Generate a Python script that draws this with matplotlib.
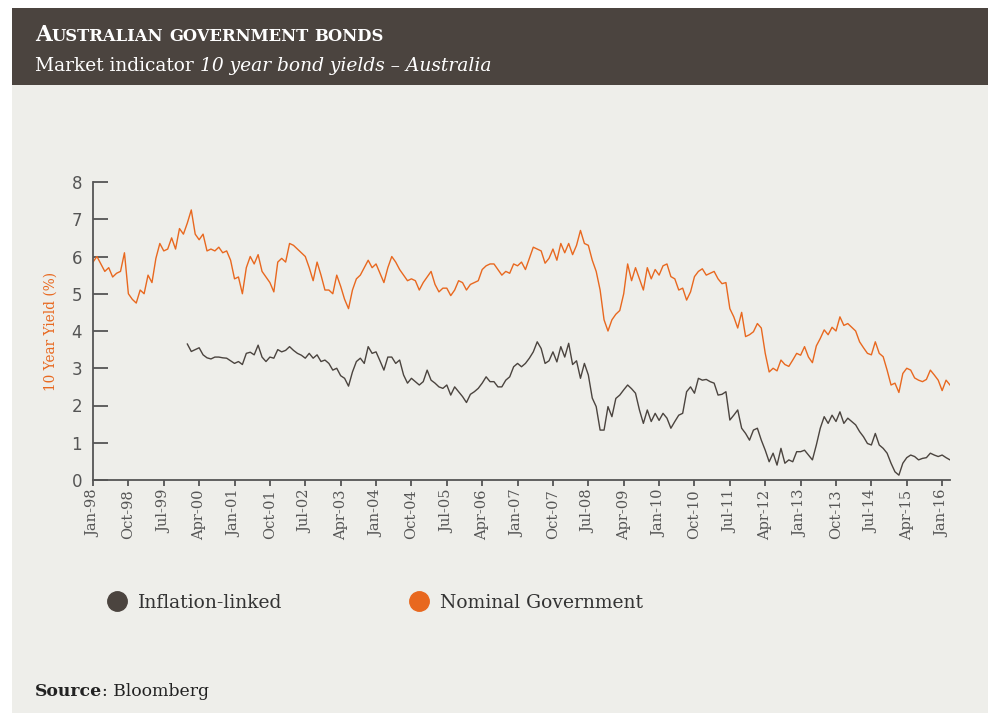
import matplotlib
matplotlib.use("Agg")
import matplotlib.pyplot as plt
from matplotlib.lines import Line2D
from matplotlib.patches import Rectangle

# monthly readings, Jan-98 .. Mar-16
nominal = [5.85, 6.0, 5.8, 5.6, 5.7, 5.45, 5.55, 5.6, 6.1, 5.0, 4.85, 4.75,
           5.1, 5.0, 5.5, 5.3, 5.95, 6.35, 6.15, 6.2, 6.5, 6.2, 6.75, 6.6,
           6.9, 7.25, 6.6, 6.45, 6.6, 6.15, 6.2, 6.15, 6.25, 6.1, 6.15, 5.9,
           5.4, 5.45, 5.0, 5.7, 6.0, 5.8, 6.05, 5.6, 5.45, 5.3, 5.05, 5.85,
           5.95, 5.85, 6.35, 6.3, 6.2, 6.1, 6.0, 5.7, 5.35, 5.85, 5.5, 5.1,
           5.1, 5.0, 5.5, 5.2, 4.85, 4.6, 5.1, 5.4, 5.5, 5.7, 5.9, 5.7,
           5.8, 5.55, 5.3, 5.7, 6.0, 5.85, 5.65, 5.5, 5.35, 5.4, 5.35, 5.1,
           5.3, 5.45, 5.6, 5.25, 5.05, 5.15, 5.15, 4.95, 5.1, 5.35, 5.3, 5.1,
           5.25, 5.3, 5.35, 5.65, 5.75, 5.8, 5.8, 5.65, 5.5, 5.6, 5.55, 5.8,
           5.75, 5.85, 5.65, 5.95, 6.25, 6.2, 6.15, 5.82, 5.95, 6.2, 5.9, 6.35,
           6.1, 6.35, 6.05, 6.3, 6.7, 6.35, 6.3, 5.9, 5.6, 5.1, 4.3, 4.0,
           4.3, 4.45, 4.55, 5.0, 5.8, 5.35, 5.7, 5.4, 5.1, 5.7, 5.4, 5.65,
           5.5, 5.75, 5.8, 5.46, 5.4, 5.1, 5.15, 4.83, 5.05, 5.46, 5.6, 5.67,
           5.5, 5.55, 5.6, 5.4, 5.27, 5.3, 4.6, 4.38, 4.08, 4.5, 3.85, 3.9,
           3.98, 4.2, 4.08, 3.4, 2.9, 3.0, 2.93, 3.22, 3.1, 3.05, 3.22, 3.4,
           3.35, 3.58, 3.3, 3.15, 3.6, 3.8, 4.03, 3.9, 4.1, 4.0, 4.38, 4.15,
           4.2, 4.1, 4.0, 3.71, 3.55, 3.4, 3.36, 3.71, 3.4, 3.31, 2.95, 2.55,
           2.6, 2.35, 2.86, 3.0, 2.95, 2.74, 2.68, 2.64, 2.7, 2.95, 2.82, 2.68,
           2.4, 2.68, 2.55]

# inflation-linked starts Jan-00
linked_start = 24
linked = [3.65, 3.45, 3.5, 3.55, 3.36, 3.28, 3.25, 3.3, 3.3, 3.28, 3.27, 3.2,
          3.13, 3.18, 3.1, 3.4, 3.43, 3.36, 3.62, 3.3, 3.18, 3.3, 3.27, 3.5,
          3.44, 3.48, 3.58, 3.48, 3.4, 3.35, 3.27, 3.4, 3.27, 3.36, 3.18, 3.22,
          3.13, 2.95, 3.0, 2.8, 2.73, 2.52, 2.9, 3.18, 3.27, 3.13, 3.58, 3.4,
          3.44, 3.2, 2.95, 3.3, 3.3, 3.13, 3.22, 2.82, 2.6, 2.73, 2.64, 2.55,
          2.64, 2.95, 2.68, 2.6, 2.5, 2.46, 2.55, 2.28, 2.5, 2.37, 2.24, 2.08,
          2.3, 2.37, 2.46, 2.6, 2.77, 2.64, 2.64, 2.5, 2.5, 2.68, 2.77, 3.04,
          3.13, 3.04, 3.13, 3.27, 3.44, 3.71, 3.53, 3.13, 3.2, 3.44, 3.17, 3.58,
          3.3, 3.67, 3.1, 3.2, 2.73, 3.13, 2.82, 2.2, 1.97, 1.34, 1.34, 1.97,
          1.7, 2.19, 2.28, 2.42, 2.55, 2.45, 2.33, 1.88, 1.52, 1.88, 1.57, 1.79,
          1.6, 1.79, 1.66, 1.39, 1.57, 1.74, 1.79, 2.37, 2.5, 2.33, 2.73, 2.68,
          2.7, 2.64, 2.6, 2.28, 2.3, 2.37, 1.61, 1.74, 1.88, 1.39, 1.25, 1.07,
          1.34, 1.39, 1.07, 0.8, 0.49, 0.72, 0.4, 0.85, 0.45, 0.54, 0.49, 0.76,
          0.76, 0.8, 0.67, 0.54, 0.94, 1.39, 1.7, 1.52, 1.74, 1.57, 1.83, 1.52,
          1.66, 1.57, 1.48, 1.3, 1.16, 0.98, 0.94, 1.25, 0.94, 0.85, 0.72, 0.45,
          0.22, 0.13, 0.45, 0.6, 0.67, 0.63, 0.54, 0.58, 0.6, 0.72, 0.67, 0.63,
          0.67, 0.6, 0.54]

tick_labels = ["Jan-98", "Oct-98", "Jul-99", "Apr-00", "Jan-01", "Oct-01", "Jul-02",
               "Apr-03", "Jan-04", "Oct-04", "Jul-05", "Apr-06", "Jan-07", "Oct-07",
               "Jul-08", "Apr-09", "Jan-10", "Oct-10", "Jul-11", "Apr-12", "Jan-13",
               "Oct-13", "Jul-14", "Apr-15", "Jan-16"]

ORANGE = "#e8681f"
DARK = "#4b443f"
PANEL = "#eeeeea"
AXC = "#555555"

W, H = 988, 713
fig = plt.figure(figsize=(W / 100, H / 100), dpi=100)
fig.patch.set_facecolor("white")

# background panel + header band
fig.patches.append(Rectangle((12 / W, 0), 1, 1 - 85 / H, transform=fig.transFigure,
                             facecolor=PANEL, edgecolor="none", zorder=-2))
fig.patches.append(Rectangle((12 / W, 1 - 85 / H), 1, 77 / H, transform=fig.transFigure,
                             facecolor=DARK, edgecolor="none", zorder=-2))

renderer = fig.canvas.get_renderer()


def put(x, y, s, **kw):
    t = fig.text(x / W, 1 - y / H, s, va="baseline", ha="left", **kw)
    return t.get_window_extent(renderer).x1


# small caps title
x = 35
for word in ["Australian", "government", "bonds"]:
    if word == "Australian":
        x = put(x, 41, word[0].upper(), fontsize=15.5, fontweight="bold",
                family="DejaVu Serif", color="white")
        x = put(x, 41, word[1:].upper(), fontsize=11.8, fontweight="bold",
                family="DejaVu Serif", color="white")
    else:
        x = put(x, 41, word.upper(), fontsize=11.8, fontweight="bold",
                family="DejaVu Serif", color="white")
    x += 6

x = put(35, 71, "Market indicator ", fontsize=13.4, family="DejaVu Serif", color="white")
put(x, 71, "10 year bond yields \u2013 Australia", fontsize=13.4, family="DejaVu Serif",
    style="italic", color="white")

ax = fig.add_axes([93 / W, 1 - 480 / H, (950 - 93) / W, (480 - 182) / H])
ax.set_facecolor("none")
ax.set_zorder(2)

months = list(range(len(nominal)))
ax.plot(months, nominal, color=ORANGE, lw=1.0)
ax.plot(list(range(linked_start, linked_start + len(linked))), linked, color=DARK, lw=1.0)

ax.set_xlim(0, len(nominal) - 1)
ax.set_ylim(0, 8)
ax.set_yticks(range(0, 9))
ax.set_xticks(range(0, 9 * len(tick_labels), 9))
ax.set_xticklabels(tick_labels, rotation=90, family="DejaVu Serif", fontsize=10.5,
                   color=AXC)
for s in ["top", "right"]:
    ax.spines[s].set_visible(False)
for s in ["left", "bottom"]:
    ax.spines[s].set_color(AXC)
    ax.spines[s].set_linewidth(1.3)
ax.tick_params(axis="y", direction="in", length=11, width=1.3, color=AXC,
               labelsize=12, labelcolor=AXC, pad=8)
ax.tick_params(axis="x", direction="out", length=4, width=1.3, color=AXC, pad=3)
ax.set_ylabel("10 Year Yield (%)", family="DejaVu Serif", fontsize=9.8, color=ORANGE,
              labelpad=10)

# legend
for lx, col, lab in [(117, DARK, "Inflation-linked"), (419, ORANGE, "Nominal Government")]:
    fig.lines.append(Line2D([lx / W], [1 - 601 / H], transform=fig.transFigure,
                            marker="o", markersize=14, color=col, linestyle="none"))
    put(lx + 21, 608, lab, fontsize=13.5, family="DejaVu Serif", color="#333333")

x = put(35, 696, "Source", fontsize=12.4, family="DejaVu Serif", fontweight="bold",
        color="#222222")
put(x, 696, ": Bloomberg", fontsize=12.4, family="DejaVu Serif", color="#222222")

fig.savefig("out.png", dpi=100)
